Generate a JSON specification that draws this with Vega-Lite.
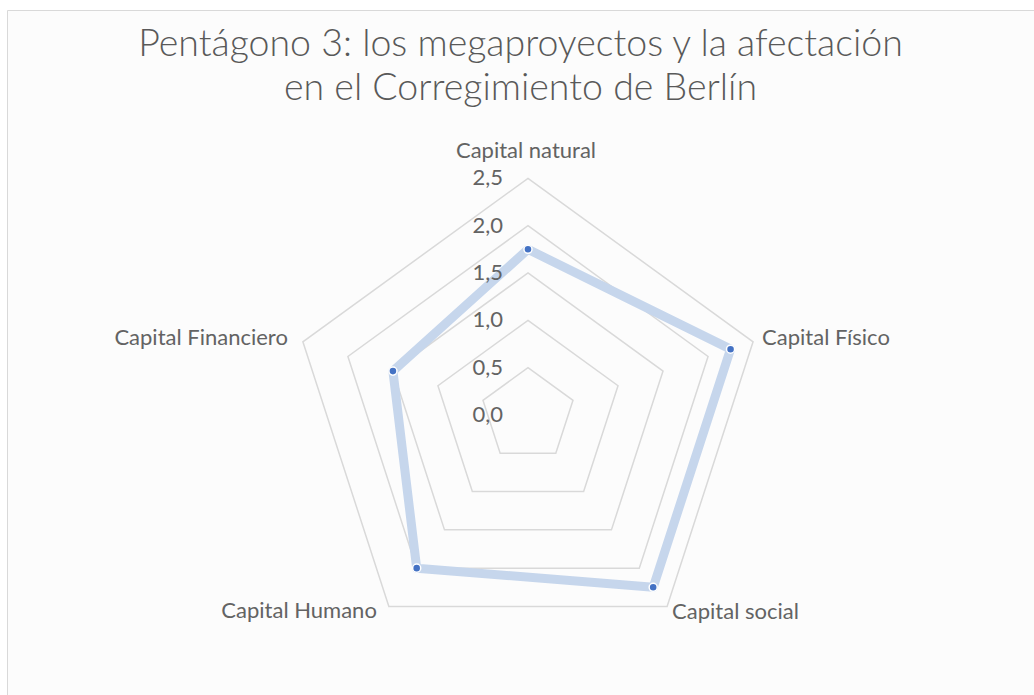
{
  "$schema": "https://vega.github.io/schema/vega-lite/v6.json",
  "width": 1027,
  "height": 685,
  "autosize": {"type": "none"},
  "padding": {"left": 7, "top": 10, "right": 0, "bottom": 0},
  "background": "#ffffff",
  "config": {
    "view": {"stroke": "#d9d9d9", "strokeWidth": 1, "fill": "#fcfcfc"},
    "locale": {"number": {"decimal": ",", "thousands": ".", "grouping": [3], "currency": ["", " €"]}},
    "text": {"font": "Lato", "fontSize": 22, "color": "#636363"}
  },
  "title": {
    "text": ["Pentágono 3: los megaproyectos y la afectación", "en el Corregimiento de Berlín"],
    "font": "Lato",
    "fontSize": 37.5,
    "fontWeight": 300,
    "color": "#595959",
    "anchor": "middle",
    "frame": "group",
    "offset": -97,
    "lineHeight": 44
  },
  "datasets": {
    "capitales": [
      {"capital": "Capital natural", "k": 0, "valor": 1.75},
      {"capital": "Capital Físico", "k": 1, "valor": 2.25},
      {"capital": "Capital social", "k": 2, "valor": 2.25},
      {"capital": "Capital Humano", "k": 3, "valor": 2.0},
      {"capital": "Capital Financiero", "k": 4, "valor": 1.5}
    ],
    "grid": [
      {"nivel": 0.5, "k": [0, 1, 2, 3, 4]},
      {"nivel": 1.0, "k": [0, 1, 2, 3, 4]},
      {"nivel": 1.5, "k": [0, 1, 2, 3, 4]},
      {"nivel": 2.0, "k": [0, 1, 2, 3, 4]},
      {"nivel": 2.5, "k": [0, 1, 2, 3, 4]}
    ],
    "niveles": [
      {"nivel": 0.0}, {"nivel": 0.5}, {"nivel": 1.0}, {"nivel": 1.5}, {"nivel": 2.0}, {"nivel": 2.5}
    ]
  },
  "layer": [
    {
      "data": {"name": "grid"},
      "transform": [
        {"flatten": ["k"]},
        {"calculate": "datum.nivel * sin(datum.k * 2 * PI / 5)", "as": "x"},
        {"calculate": "datum.nivel * cos(datum.k * 2 * PI / 5)", "as": "y"}
      ],
      "mark": {"type": "line", "interpolate": "linear-closed", "stroke": "#d9d9d9", "strokeWidth": 1.5},
      "encoding": {
        "x": {"field": "x", "type": "quantitative", "scale": {"domain": [-5.503, 5.345], "nice": false, "zero": false}, "axis": null},
        "y": {"field": "y", "type": "quantitative", "scale": {"domain": [-2.958, 4.278], "nice": false, "zero": false}, "axis": null},
        "detail": {"field": "nivel", "type": "nominal"},
        "order": {"field": "k", "type": "quantitative"}
      }
    },
    {
      "data": {"name": "capitales"},
      "transform": [
        {"calculate": "datum.valor * sin(datum.k * 2 * PI / 5)", "as": "x"},
        {"calculate": "datum.valor * cos(datum.k * 2 * PI / 5)", "as": "y"}
      ],
      "mark": {"type": "line", "interpolate": "linear-closed", "stroke": "#c6d6ec", "strokeWidth": 9, "strokeJoin": "round"},
      "encoding": {
        "x": {"field": "x", "type": "quantitative", "scale": {"domain": [-5.503, 5.345], "nice": false, "zero": false}, "axis": null},
        "y": {"field": "y", "type": "quantitative", "scale": {"domain": [-2.958, 4.278], "nice": false, "zero": false}, "axis": null},
        "order": {"field": "k", "type": "quantitative"}
      }
    },
    {
      "data": {"name": "capitales"},
      "transform": [
        {"calculate": "datum.valor * sin(datum.k * 2 * PI / 5)", "as": "x"},
        {"calculate": "datum.valor * cos(datum.k * 2 * PI / 5)", "as": "y"}
      ],
      "mark": {"type": "point", "filled": true, "fill": "#4472c4", "stroke": "#ffffff", "strokeWidth": 1.5, "size": 65, "opacity": 1},
      "encoding": {
        "x": {"field": "x", "type": "quantitative", "scale": {"domain": [-5.503, 5.345], "nice": false, "zero": false}, "axis": null},
        "y": {"field": "y", "type": "quantitative", "scale": {"domain": [-2.958, 4.278], "nice": false, "zero": false}, "axis": null}
      }
    },
    {
      "data": {"name": "niveles"},
      "mark": {"type": "text", "align": "right", "baseline": "middle", "dx": -25},
      "encoding": {
        "x": {"datum": 0, "type": "quantitative", "scale": {"domain": [-5.503, 5.345], "nice": false, "zero": false}, "axis": null},
        "y": {"field": "nivel", "type": "quantitative", "scale": {"domain": [-2.958, 4.278], "nice": false, "zero": false}, "axis": null},
        "text": {"field": "nivel", "type": "quantitative", "format": ".1f"}
      }
    },
    {
      "data": {"name": "capitales"},
      "transform": [
        {"filter": "datum.k == 0"},
        {"calculate": "2.5 * sin(datum.k * 2 * PI / 5)", "as": "x"},
        {"calculate": "2.5 * cos(datum.k * 2 * PI / 5)", "as": "y"}
      ],
      "mark": {"type": "text", "align": "center", "baseline": "alphabetic", "dx": -2, "dy": -20},
      "encoding": {
        "x": {"field": "x", "type": "quantitative", "scale": {"domain": [-5.503, 5.345], "nice": false, "zero": false}, "axis": null},
        "y": {"field": "y", "type": "quantitative", "scale": {"domain": [-2.958, 4.278], "nice": false, "zero": false}, "axis": null},
        "text": {"field": "capital", "type": "nominal"}
      }
    },
    {
      "data": {"name": "capitales"},
      "transform": [
        {"filter": "datum.k == 1"},
        {"calculate": "2.5 * sin(datum.k * 2 * PI / 5)", "as": "x"},
        {"calculate": "2.5 * cos(datum.k * 2 * PI / 5)", "as": "y"}
      ],
      "mark": {"type": "text", "align": "left", "baseline": "middle", "dx": 9, "dy": -4},
      "encoding": {
        "x": {"field": "x", "type": "quantitative", "scale": {"domain": [-5.503, 5.345], "nice": false, "zero": false}, "axis": null},
        "y": {"field": "y", "type": "quantitative", "scale": {"domain": [-2.958, 4.278], "nice": false, "zero": false}, "axis": null},
        "text": {"field": "capital", "type": "nominal"}
      }
    },
    {
      "data": {"name": "capitales"},
      "transform": [
        {"filter": "datum.k == 2"},
        {"calculate": "2.5 * sin(datum.k * 2 * PI / 5)", "as": "x"},
        {"calculate": "2.5 * cos(datum.k * 2 * PI / 5)", "as": "y"}
      ],
      "mark": {"type": "text", "align": "left", "baseline": "middle", "dx": 5, "dy": 6},
      "encoding": {
        "x": {"field": "x", "type": "quantitative", "scale": {"domain": [-5.503, 5.345], "nice": false, "zero": false}, "axis": null},
        "y": {"field": "y", "type": "quantitative", "scale": {"domain": [-2.958, 4.278], "nice": false, "zero": false}, "axis": null},
        "text": {"field": "capital", "type": "nominal"}
      }
    },
    {
      "data": {"name": "capitales"},
      "transform": [
        {"filter": "datum.k == 3"},
        {"calculate": "2.5 * sin(datum.k * 2 * PI / 5)", "as": "x"},
        {"calculate": "2.5 * cos(datum.k * 2 * PI / 5)", "as": "y"}
      ],
      "mark": {"type": "text", "align": "right", "baseline": "middle", "dx": -12, "dy": 5},
      "encoding": {
        "x": {"field": "x", "type": "quantitative", "scale": {"domain": [-5.503, 5.345], "nice": false, "zero": false}, "axis": null},
        "y": {"field": "y", "type": "quantitative", "scale": {"domain": [-2.958, 4.278], "nice": false, "zero": false}, "axis": null},
        "text": {"field": "capital", "type": "nominal"}
      }
    },
    {
      "data": {"name": "capitales"},
      "transform": [
        {"filter": "datum.k == 4"},
        {"calculate": "2.5 * sin(datum.k * 2 * PI / 5)", "as": "x"},
        {"calculate": "2.5 * cos(datum.k * 2 * PI / 5)", "as": "y"}
      ],
      "mark": {"type": "text", "align": "right", "baseline": "middle", "dx": -15, "dy": -4},
      "encoding": {
        "x": {"field": "x", "type": "quantitative", "scale": {"domain": [-5.503, 5.345], "nice": false, "zero": false}, "axis": null},
        "y": {"field": "y", "type": "quantitative", "scale": {"domain": [-2.958, 4.278], "nice": false, "zero": false}, "axis": null},
        "text": {"field": "capital", "type": "nominal"}
      }
    }
  ]
}
